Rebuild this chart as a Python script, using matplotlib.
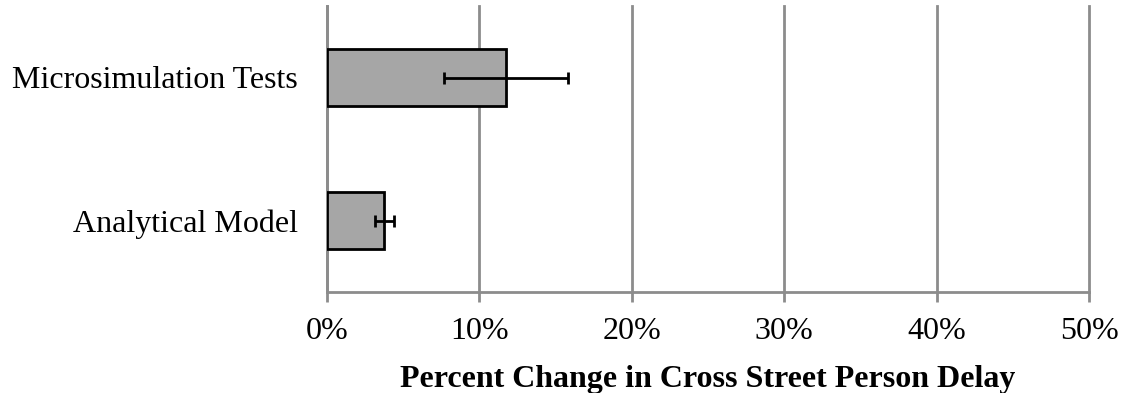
import matplotlib
matplotlib.use("Agg")
import matplotlib.pyplot as plt
from matplotlib.ticker import FuncFormatter

# Data
categories = ["Analytical Model", "Microsimulation Tests"]
pct_change = [3.77, 11.75]
pct_error = [0.63, 4.08]
x_ticks = [0, 10, 20, 30, 40, 50]

plt.rcParams["font.family"] = ["Liberation Serif", "DejaVu Serif"]

fig = plt.figure(figsize=(11.26, 3.93), dpi=100)
ax = fig.add_axes([327 / 1126, 1 - 292 / 393, (1089 - 327) / 1126, (292 - 6) / 393])

grid_color = "#8c8c8c"
ypos = list(range(len(categories)))

ax.set_axisbelow(True)
ax.xaxis.grid(True, color=grid_color, linewidth=2)
ax.barh(ypos, pct_change, height=0.405, color="#a6a6a6",
        edgecolor="black", linewidth=2, zorder=3)
ax.errorbar(pct_change, ypos, xerr=pct_error, fmt="none", ecolor="black",
            elinewidth=2, capsize=4, capthick=2, zorder=4)

ax.set_xlim(0, 50)
ax.set_ylim(-0.5, 1.5)
ax.set_xticks(x_ticks)
ax.xaxis.set_major_formatter(FuncFormatter(lambda v, p: f"{v:.0f}%"))
ax.set_yticks(ypos)
ax.set_yticklabels(categories)
for gl in ax.get_xgridlines():
    gl.set_clip_on(False)

for side in ("top", "right"):
    ax.spines[side].set_visible(False)
for side in ("left", "bottom"):
    ax.spines[side].set_color(grid_color)
    ax.spines[side].set_linewidth(2)

ax.tick_params(axis="x", length=7, width=2, color=grid_color,
               labelsize=23, pad=11)
ax.tick_params(axis="y", length=0, labelsize=23, pad=21)

ax.set_xlabel("Percent Change in Cross Street Person Delay",
              fontsize=23, fontweight="bold", labelpad=14)

fig.savefig("out.png", dpi=100)
